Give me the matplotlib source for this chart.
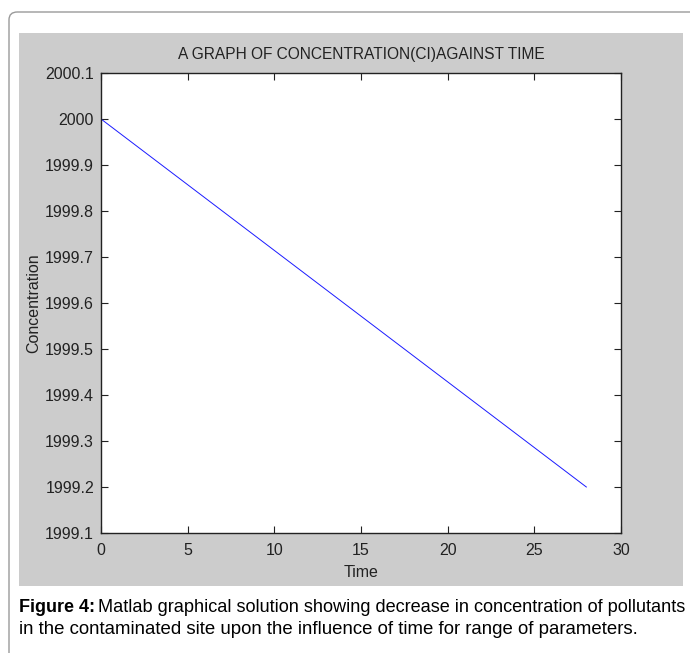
import matplotlib
matplotlib.use("Agg")
import matplotlib.pyplot as plt
from matplotlib.patches import FancyBboxPatch, Rectangle

# data
time = [0, 28]
concentration = [2000.0, 1999.2]

xticks = [0, 5, 10, 15, 20, 25, 30]
yticks = [1999.1, 1999.2, 1999.3, 1999.4, 1999.5, 1999.6, 1999.7, 1999.8, 1999.9, 2000.0, 2000.1]
yticklabels = ['1999.1', '1999.2', '1999.3', '1999.4', '1999.5', '1999.6', '1999.7', '1999.8', '1999.9', '2000', '2000.1']

W, H = 690, 653
font = ['Liberation Sans', 'DejaVu Sans']
txtcol = '#222222'

fig = plt.figure(figsize=(W / 100, H / 100), dpi=100)
fig.patch.set_facecolor('white')

def fx(px):
    return px / W

def fy(py):
    return 1 - py / H

# outer rounded border (right / bottom run off the page)
border = FancyBboxPatch((fx(9), fy(700)), fx(720) - fx(9), fy(12) - fy(700),
                        boxstyle="round,pad=0,rounding_size=0.012",
                        transform=fig.transFigure, facecolor='none',
                        edgecolor='#9a9a9a', linewidth=1.0, clip_on=False, zorder=-2)
fig.patches.append(border)

# grey matlab figure panel
panel = Rectangle((fx(19), fy(586)), fx(683) - fx(19), fy(33) - fy(586),
                  transform=fig.transFigure, facecolor='#cccccc', edgecolor='none',
                  zorder=-1)
fig.patches.append(panel)

ax = fig.add_axes([fx(101), fy(533), fx(621) - fx(101), fy(73) - fy(533)])
ax.set_zorder(2)
ax.set_facecolor('white')
ax.plot(time, concentration, color='#1a1aff', linewidth=0.7)

ax.set_xlim(0, 30)
ax.set_ylim(1999.1, 2000.1)
ax.set_xticks(xticks)
ax.set_xticklabels([str(t) for t in xticks])
ax.set_yticks(yticks)
ax.set_yticklabels(yticklabels)
ax.tick_params(direction='in', length=5, width=0.8, top=True, right=True,
               labelsize=11.5, colors=txtcol)
ax.tick_params(axis='x', pad=7)
ax.tick_params(axis='y', pad=5)
for lab in ax.get_xticklabels() + ax.get_yticklabels():
    lab.set_family(font)
for s in ax.spines.values():
    s.set_linewidth(1.0)
    s.set_color(txtcol)

ax.set_title('A GRAPH OF CONCENTRATION(CI)AGAINST TIME', family=font,
             fontsize=11.2, color=txtcol, pad=10)
ax.set_xlabel('Time', family=font, fontsize=11.5, color=txtcol, labelpad=5)
ax.set_ylabel('Concentration', family=font, fontsize=11.5, color=txtcol, labelpad=3)

# caption
cap1 = fig.text(fx(19), fy(608), 'Figure 4:', family=font, fontsize=13,
                fontweight='bold', va='center', ha='left')
fig.canvas.draw()
bb = cap1.get_window_extent()
fig.text(bb.x1 / W + fx(3), fy(608),
         'Matlab graphical solution showing decrease in concentration of pollutants',
         family=font, fontsize=13.1, va='center', ha='left')
fig.text(fx(19), fy(630),
         'in the contaminated site upon the influence of time for range of parameters.',
         family=font, fontsize=13.4, va='center', ha='left')

fig.savefig('out.png', dpi=100)
